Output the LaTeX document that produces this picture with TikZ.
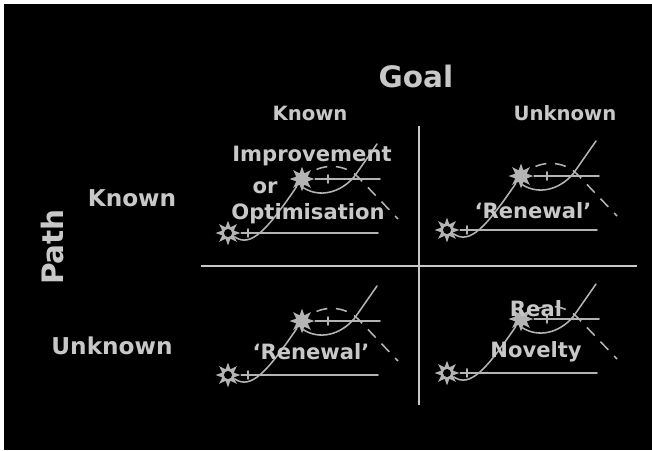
\documentclass[tikz,border=0pt]{standalone}
\usepackage{fontspec}
\setmainfont{DejaVu Sans}
\usepackage{xcolor}
\usepackage{tikz}
\usetikzlibrary{shapes}

\definecolor{ink}{HTML}{C8C8C8}
\definecolor{wire}{HTML}{B4B4B4}

\begin{document}
\begin{tikzpicture}[x=0.025cm, y=-0.025cm]
    \tikzstyle{spark} = [star, star points=8, star point ratio=2, minimum size=0.62cm, inner sep=0pt, fill=wire, draw=none]
    \tikzstyle{sparkhub} = [spark, path picture={\fill[black] (path picture bounding box.center) circle (0.1cm);}]
    \tikzstyle{trace} = [wire, line width=1.1pt, line cap=round]
    \tikzstyle{ghost} = [wire, line width=1.1pt, dash pattern=on 8pt off 6pt, dash phase=8pt]
    \tikzstyle{grid} = [ink, line width=1.6pt]
    \tikzstyle{tag} = [text=ink, font=\bfseries\fontsize{15}{19}\selectfont, inner sep=0pt]
    \tikzstyle{head} = [text=ink, font=\bfseries\fontsize{14}{17}\selectfont, inner sep=0pt]
    \tikzstyle{side} = [text=ink, font=\bfseries\fontsize{16.5}{20}\selectfont, inner sep=0pt]
    \tikzstyle{axis} = [text=ink, font=\bfseries\fontsize{21}{25}\selectfont, inner sep=0pt]

    \useasboundingbox (0,0) rectangle (652,450);
    \fill[white] (0,0) rectangle (652,450);
    \fill[black] (4,4) rectangle (652,450);

    % quadrant dividers
    \coordinate (vtop) at (419,126);
    \coordinate (vbot) at (419,405);
    \coordinate (hleft) at (201,266);
    \coordinate (hright) at (637,266);
    \draw[grid] (vtop) -- (vbot);
    \draw[grid] (hleft) -- (hright);

    % two stars, two rails and the curves between them, once per quadrant
    \foreach \q/\sx/\sy in {tl/228/233, tr/447/230, bl/228/375, br/447/373} {
      \begin{scope}[shift={(\sx,\sy)}]
        \node[sparkhub] (\q-s) at (0,0) {};
        \node[spark] (\q-u) at (74,-54) {};
        \coordinate (\q-e) at (150,0);
        \coordinate (\q-f) at (152,-54);
        \coordinate (\q-knee) at (126,-56);
        \coordinate (\q-tip) at (149,-89);
        \coordinate (\q-crest) at (130,-56);
        \coordinate (\q-drop) at (170,-14);

        \draw[trace] (\q-s) -- (\q-e);
        \draw[trace] (\q-u) -- (\q-f);
        \draw[trace] (20,-4) -- (20,4);
        \draw[trace] (100,-58) -- (100,-50);

        \draw[trace] (\q-s.-30) .. controls +(16,11) and +(-30,44) .. (\q-u.-125);
        \draw[trace] (\q-u.-80) .. controls +(16,10) and +(-14,16) .. (\q-knee) -- (\q-tip);
        \draw[ghost] (\q-u.35) .. controls +(12,-10) and +(-14,-14) .. (\q-crest) -- (\q-drop);
      \end{scope}
    }

    % axis titles
    \node[axis] (goal) at (416,76) {Goal};
    \node[head] (goalknown) at (310,113) {Known};
    \node[head] (goalunknown) at (565,113) {Unknown};
    \node[axis, rotate=90] (path) at (52,247) {Path};
    \node[side] (pathknown) at (132,198) {Known};
    \node[side] (pathunknown) at (112,346) {Unknown};

    % quadrant captions
    \node[tag] (improve) at (312,156) {Improvement};
    \node[tag] (or) at (265,188) {or};
    \node[tag] (optimise) at (308,214) {Optimisation};
    \node[tag] (renewtr) at (533,211) {`Renewal'};
    \node[tag] (renewbl) at (311,352) {`Renewal'};
    \node[tag] (real) at (536,309) {Real};
    \node[tag] (novelty) at (536,352) {Novelty};
\end{tikzpicture}
\end{document}
